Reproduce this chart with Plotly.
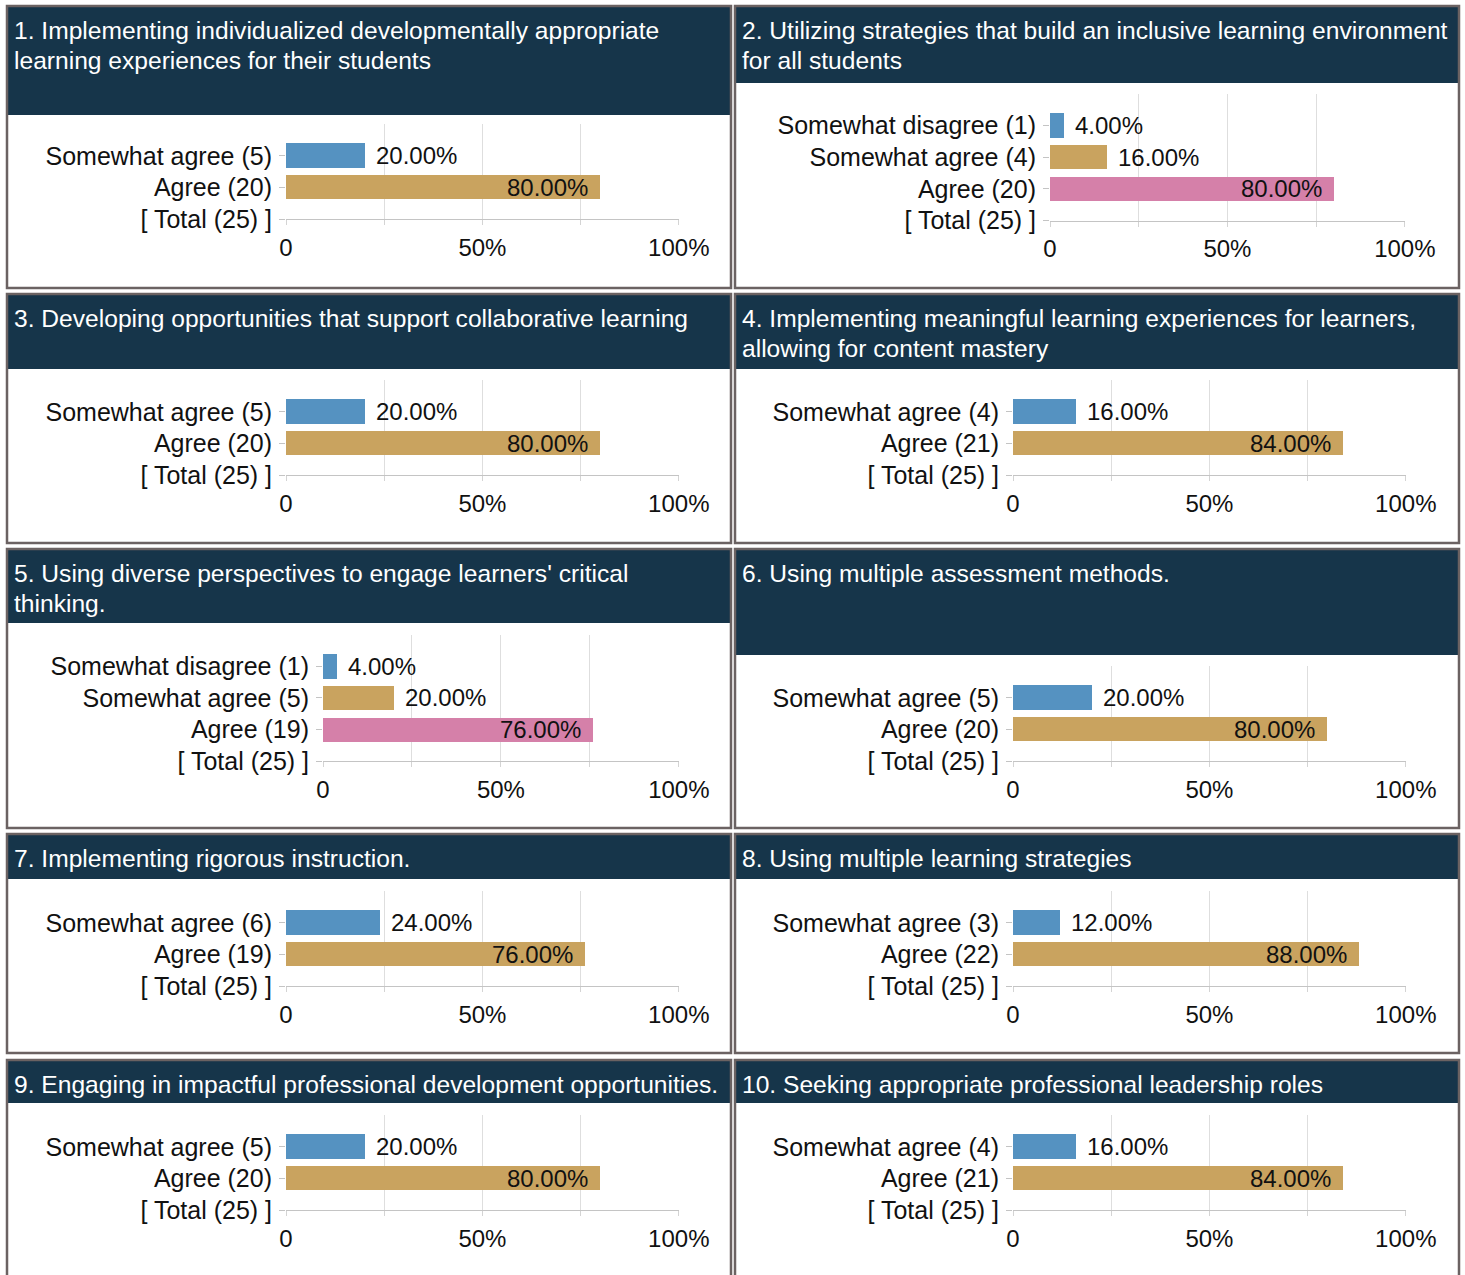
import plotly.graph_objects as go

# ---------------- data ----------------
titles = [
    "1. Implementing individualized developmentally appropriate<br>learning experiences for their students",
    "2. Utilizing strategies that build an inclusive learning environment<br>for all students",
    "3. Developing opportunities that support collaborative learning",
    "4. Implementing meaningful learning experiences for learners,<br>allowing for content mastery",
    "5. Using diverse perspectives to engage learners' critical<br>thinking.",
    "6. Using multiple assessment methods.",
    "7. Implementing rigorous instruction.",
    "8. Using multiple learning strategies",
    "9. Engaging in impactful professional development opportunities.",
    "10. Seeking appropriate professional leadership roles",
]
categories = [
    ["Somewhat agree", "Agree"],
    ["Somewhat disagree", "Somewhat agree", "Agree"],
    ["Somewhat agree", "Agree"],
    ["Somewhat agree", "Agree"],
    ["Somewhat disagree", "Somewhat agree", "Agree"],
    ["Somewhat agree", "Agree"],
    ["Somewhat agree", "Agree"],
    ["Somewhat agree", "Agree"],
    ["Somewhat agree", "Agree"],
    ["Somewhat agree", "Agree"],
]
counts = [
    [5, 20], [1, 4, 20], [5, 20], [4, 21], [1, 5, 19],
    [5, 20], [6, 19], [3, 22], [5, 20], [4, 21],
]
percents = [
    [20.0, 80.0], [4.0, 16.0, 80.0], [20.0, 80.0], [16.0, 84.0], [4.0, 20.0, 76.0],
    [20.0, 80.0], [24.0, 76.0], [12.0, 88.0], [20.0, 80.0], [16.0, 84.0],
]
totals = [25, 25, 25, 25, 25, 25, 25, 25, 25, 25]
x_tick_vals = [0, 25, 50, 75, 100]
x_tick_text = ["0", "", "50%", "", "100%"]

# ---------------- styling / geometry (page pixels) ----------------
W, H = 1465, 1275
FONT = "Arial, 'Liberation Sans', sans-serif"
HEADER = "#16354a"
BORDER = "#6b6262"
PALETTE = ["#5592c1", "#c9a35f", "#d580a9"]

col_x = [(7, 731), (735, 1459)]
rows = [(6, 288), (294, 543), (549, 828), (834, 1053), (1060, 1290)]
header_bottom = [115, 83, 369, 369, 623, 655, 879, 879, 1103, 1103]
axis_x0 = [286, 1050, 286, 1013, 323, 1013, 286, 1013, 286, 1013]
axis_x100 = [679, 1405, 679, 1406, 679, 1406, 679, 1406, 679, 1406]
baseline = [219, 220.5, 475, 475, 761, 761, 986, 986, 1210, 1210]
STEP = 31.6
TITLE_LINE = 30


def px(x):
    return x / W


def py(y):
    return 1 - y / H


fig = go.Figure()
shapes = []
annotations = []

for i in range(10):
    r, c = divmod(i, 2)
    x0, x1 = col_x[c]
    y0, y1 = rows[r]
    # header
    shapes.append(dict(type="rect", xref="paper", yref="paper",
                       x0=px(x0), x1=px(x1), y0=py(header_bottom[i]), y1=py(y0),
                       fillcolor=HEADER, line=dict(width=0), layer="below"))
    # border
    shapes.append(dict(type="rect", xref="paper", yref="paper",
                       x0=px(x0), x1=px(x1), y0=py(y1), y1=py(y0),
                       fillcolor="rgba(0,0,0,0)", line=dict(color=BORDER, width=2.5),
                       layer="below"))
    # title (one annotation per line for exact line spacing)
    for li, line in enumerate(titles[i].split("<br>")):
        annotations.append(dict(xref="paper", yref="paper", x=px(x0 + 5),
                                y=py(y0 + 9 + li * TITLE_LINE),
                                xanchor="left", yanchor="top", align="left",
                                text=line, showarrow=False,
                                font=dict(family=FONT, size=24.6, color="white")))

    cats = categories[i]
    n = len(cats)
    k = i + 1
    xa = "x" if k == 1 else f"x{k}"
    ya = "y" if k == 1 else f"y{k}"
    positions = [n - j for j in range(n)]
    fig.add_trace(go.Bar(
        x=percents[i], y=positions, orientation="h",
        marker=dict(color=[PALETTE[j] for j in range(n)], line=dict(width=0)),
        width=0.77, xaxis=xa, yaxis=ya, showlegend=False, hoverinfo="skip",
    ))
    for j in range(n):
        p = percents[i][j]
        inside = p >= 50
        annotations.append(dict(xref=xa, yref=ya, x=p, y=positions[j],
                                xanchor="right" if inside else "left",
                                xshift=-10 if inside else 9, yanchor="middle",
                                text=f"{p:.2f}%", showarrow=False,
                                font=dict(family=FONT, size=24, color="#111")))

    tickvals = [0] + positions[::-1]
    ticktext = [f"[ Total ({totals[i]}) ]"] + [f"{cats[j]} ({counts[i][j]})" for j in range(n)][::-1]

    xd = [px(axis_x0[i]), px(axis_x100[i])]
    yd = [py(baseline[i]), py(baseline[i] - (n + 1) * STEP)]
    xkey = "xaxis" if k == 1 else f"xaxis{k}"
    ykey = "yaxis" if k == 1 else f"yaxis{k}"
    fig.update_layout({
        xkey: dict(domain=xd, range=[0, 100.05], anchor=ya, tickvals=x_tick_vals,
                   ticktext=x_tick_text, showgrid=True, gridcolor="#dedede",
                   gridwidth=1, zeroline=False, showline=True, linecolor="#c4c4c4",
                   linewidth=1, ticks="outside", ticklen=5, tickcolor="#d4d4d4",
                   ticklabelstandoff=2, fixedrange=True, automargin=False,
                   tickfont=dict(family=FONT, size=24, color="#111")),
        ykey: dict(domain=yd, range=[0, n + 1], anchor=xa, tickvals=tickvals,
                   ticktext=ticktext, showgrid=False, zeroline=False, showline=False,
                   ticks="outside", ticklen=6, tickcolor="#c4c4c4",
                   ticklabelstandoff=2, fixedrange=True, automargin=False,
                   tickfont=dict(family=FONT, size=25, color="#111")),
    })

fig.update_layout(
    template="none",
    width=W, height=H, margin=dict(l=0, r=0, t=0, b=0, pad=0, autoexpand=False),
    paper_bgcolor="white", plot_bgcolor="rgba(0,0,0,0)",
    shapes=shapes, annotations=annotations, bargap=0,
    font=dict(family=FONT),
)

fig.write_html(
    "out.html",
    config={"displayModeBar": False},
    post_script="document.body.style.margin='0px';"
                "document.body.style.overflow='hidden';"
                "document.documentElement.style.overflow='hidden';",
)
